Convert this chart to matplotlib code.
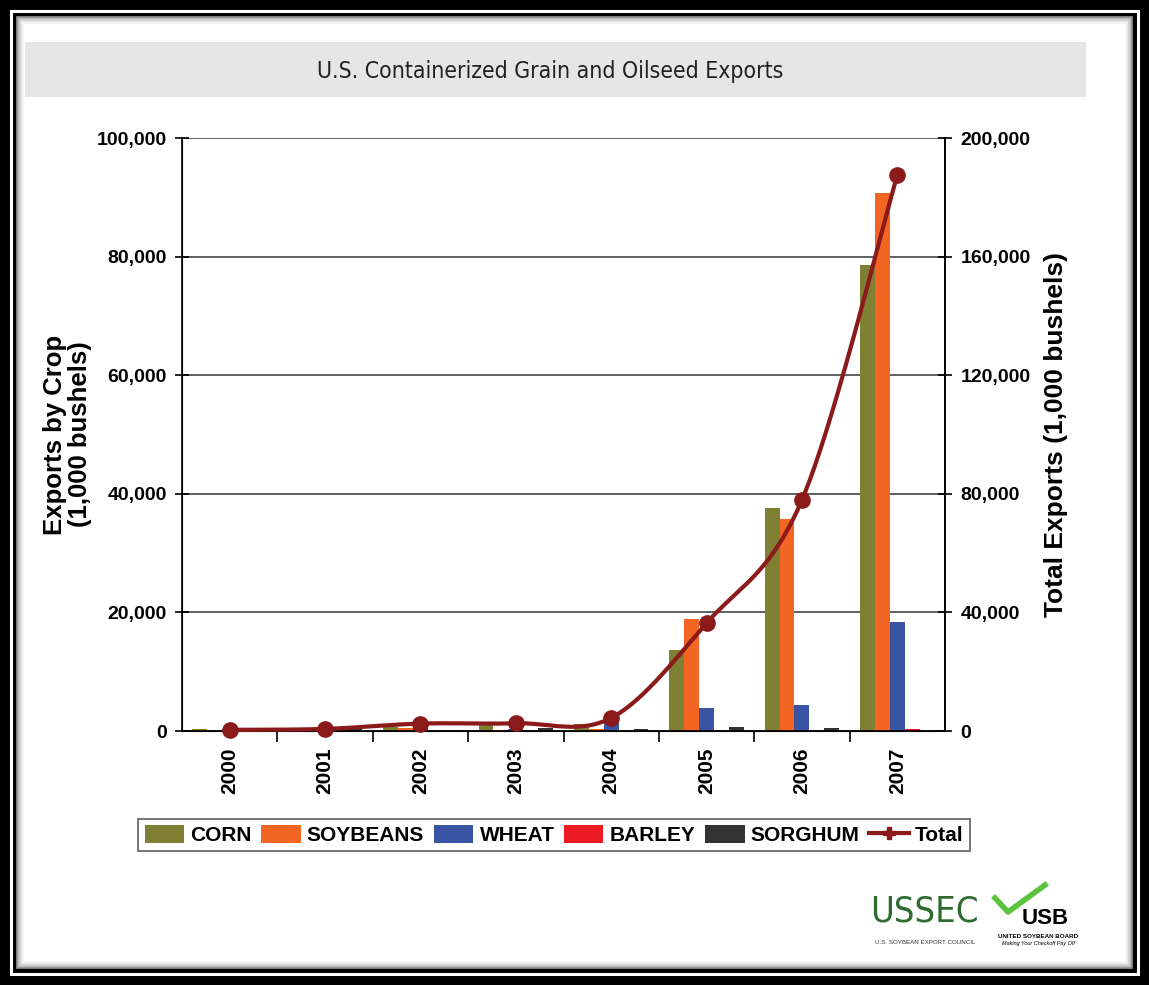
import numpy as np
import matplotlib.pyplot as plt
from matplotlib.patches import Rectangle, Patch
from matplotlib.lines import Line2D
from matplotlib.ticker import FuncFormatter, FixedLocator

plt.rcParams["font.family"] = ["Liberation Sans", "DejaVu Sans"]

years = ["2000", "2001", "2002", "2003", "2004", "2005", "2006", "2007"]
corn = [300, 200, 600, 1600, 1200, 13700, 37600, 78600]
soybeans = [0, 100, 500, 200, 400, 18900, 35700, 90700]
wheat = [0, 200, 800, 300, 2400, 3900, 4400, 18400]
barley = [0, 0, 0, 0, 0, 0, 0, 300]
sorghum = [0, 300, 200, 500, 300, 700, 500, 0]
total = [400, 700, 2500, 2600, 4400, 36400, 77900, 187500]

crop_names = ["CORN", "SOYBEANS", "WHEAT", "BARLEY", "SORGHUM"]
crop_colors = ["#7f8033", "#f26522", "#3a54a4", "#ed1c24", "#333333"]
line_color = "#8b1a1a"

W, H = 1149, 985
fig = plt.figure(figsize=(W / 100, H / 100), dpi=100, facecolor="black")


def px(x, y, w, h):
    # pixel box (top-left origin) -> figure fraction rect
    return (x / W, 1 - (y + h) / H), w / W, h / H


def add_rect(x, y, w, h, **kw):
    xy, ww, hh = px(x, y, w, h)
    fig.patches.append(Rectangle(xy, ww, hh, transform=fig.transFigure,
                                 zorder=-10, **kw))


# frame
add_rect(11, 11, 1127, 963, fill=False, edgecolor="white", lw=2.2)
add_rect(17, 17, 1115, 951, facecolor="white", edgecolor="none")
for i, g in enumerate([0.55, 0.7, 0.82, 0.9, 0.96]):
    add_rect(17 + i * 1.6, 17 + i * 1.6, 1115 - i * 3.2, 951 - i * 3.2,
             fill=False, edgecolor=(g, g, g), lw=1.3)

# title bar
add_rect(25, 42, 1061, 55, facecolor="#e6e6e6", edgecolor="none")
fig.text(550 / W, 1 - 71 / H, "U.S. Containerized Grain and Oilseed Exports",
         ha="center", va="center", fontsize=16.5, color="#222222",
         family="DejaVu Sans", stretch="condensed", fontweight="medium")

ax = fig.add_axes([182 / W, 1 - 731 / H, 763 / W, 593 / H])
ax.set_facecolor("none")
x = np.arange(len(years))
bw = 0.156
series = [corn, soybeans, wheat, barley, sorghum]
for k, (vals, col) in enumerate(zip(series, crop_colors)):
    ax.bar(x + (k - 2) * bw, vals, bw, color=col, zorder=2)

ax.set_xlim(-0.5, len(years) - 0.5)
ax.set_ylim(0, 100000)
ax.set_yticks(np.arange(0, 100001, 20000))
ax.yaxis.set_major_formatter(FuncFormatter(lambda v, p: f"{v:,.0f}"))
ax.grid(axis="y", color="#444444", lw=1.2, zorder=1)
ax.set_axisbelow(True)
ax.set_xticks(x)
ax.set_xticklabels(years, rotation=90, fontsize=15, fontweight="bold")
ax.tick_params(axis="x", length=0, pad=12)
ax.xaxis.set_minor_locator(FixedLocator(np.arange(0.5, len(years) - 1, 1)))
ax.tick_params(axis="x", which="minor", length=8, direction="out", width=1.2)
ax.tick_params(axis="y", direction="inout", length=10, width=1.2, labelsize=14, pad=6)
for lab in ax.get_yticklabels():
    lab.set_fontweight("bold")
ax.spines["top"].set_visible(False)
for s in ["left", "right", "bottom"]:
    ax.spines[s].set_linewidth(1.2)
ax.set_ylabel("Exports by Crop\n(1,000 bushels)", fontsize=18.5, fontweight="bold",
              labelpad=3, linespacing=1.05)

ax2 = ax.twinx()
ax2.set_ylim(0, 200000)
ax2.set_yticks(np.arange(0, 200001, 40000))
ax2.yaxis.set_major_formatter(FuncFormatter(lambda v, p: f"{v:,.0f}"))
ax2.tick_params(axis="y", direction="inout", length=10, width=1.2, labelsize=14, pad=6)
for lab in ax2.get_yticklabels():
    lab.set_fontweight("bold")
ax2.spines["top"].set_visible(False)
ax2.spines["right"].set_linewidth(1.2)
ax2.set_ylabel("Total Exports (1,000 bushels)", fontsize=19, fontweight="bold",
               labelpad=10)

# smoothed total line (Catmull-Rom through the data points, scaled space)
ys = 593 / 96 / 200000.0
P = np.column_stack([x, np.array(total) * ys])
Pe = np.vstack([P[0], P, P[-1]])
cx, cy = [], []
t = np.linspace(0, 1, 40)
for i in range(len(P) - 1):
    p0, p1, p2, p3 = Pe[i], Pe[i + 1], Pe[i + 2], Pe[i + 3]
    c1 = p1 + (p2 - p0) / 6
    c2 = p2 - (p3 - p1) / 6
    seg = ((1 - t) ** 3)[:, None] * p1 + (3 * (1 - t) ** 2 * t)[:, None] * c1 \
        + (3 * (1 - t) * t ** 2)[:, None] * c2 + (t ** 3)[:, None] * p2
    cx.extend(seg[:, 0])
    cy.extend(seg[:, 1])
ax2.plot(cx, np.array(cy) / ys, color=line_color, lw=3, zorder=3, clip_on=False)
ax2.plot(x, total, "o", color=line_color, ms=11, zorder=4, clip_on=False)

# legend
handles = [Patch(facecolor=c, edgecolor="none") for c in crop_colors]
handles.append(Line2D([], [], color=line_color, lw=3, marker="P", ms=9))
leg = fig.legend(handles, crop_names + ["Total"], loc="center",
                 bbox_to_anchor=(554 / W, 1 - 835 / H), ncol=6, frameon=True,
                 fancybox=False, edgecolor="#333333", handlelength=1.9,
                 handleheight=1.0, handletextpad=0.3, columnspacing=0.45,
                 borderpad=0.3, prop={"weight": "bold", "size": 15})
leg.get_frame().set_linewidth(1.2)

# logos (text approximations)
fig.text(924 / W, 1 - 912 / H, "USSEC", ha="center", va="center", fontsize=26,
         color="#2f6b2f", family="DejaVu Sans", stretch="condensed")
fig.text(925 / W, 1 - 942 / H, "U.S. SOYBEAN EXPORT COUNCIL", ha="center",
         va="center", fontsize=4.5, color="#333333")
fig.lines.append(Line2D([995 / W, 1008 / W, 1045 / W],
                        [1 - 898 / H, 1 - 912 / H, 1 - 885 / H],
                        transform=fig.transFigure, color="#5cc43c", lw=4))
fig.text(1045 / W, 1 - 919 / H, "USB", ha="center", va="center", fontsize=16,
         fontweight="bold", color="black")
fig.text(1038 / W, 1 - 936 / H, "UNITED SOYBEAN BOARD", ha="center",
         va="center", fontsize=4.5, fontweight="bold", color="black")
fig.text(1038 / W, 1 - 943 / H, "Making Your Checkoff Pay Off", ha="center",
         va="center", fontsize=4, style="italic", color="black")

fig.savefig("out.png", dpi=100, facecolor="black")
